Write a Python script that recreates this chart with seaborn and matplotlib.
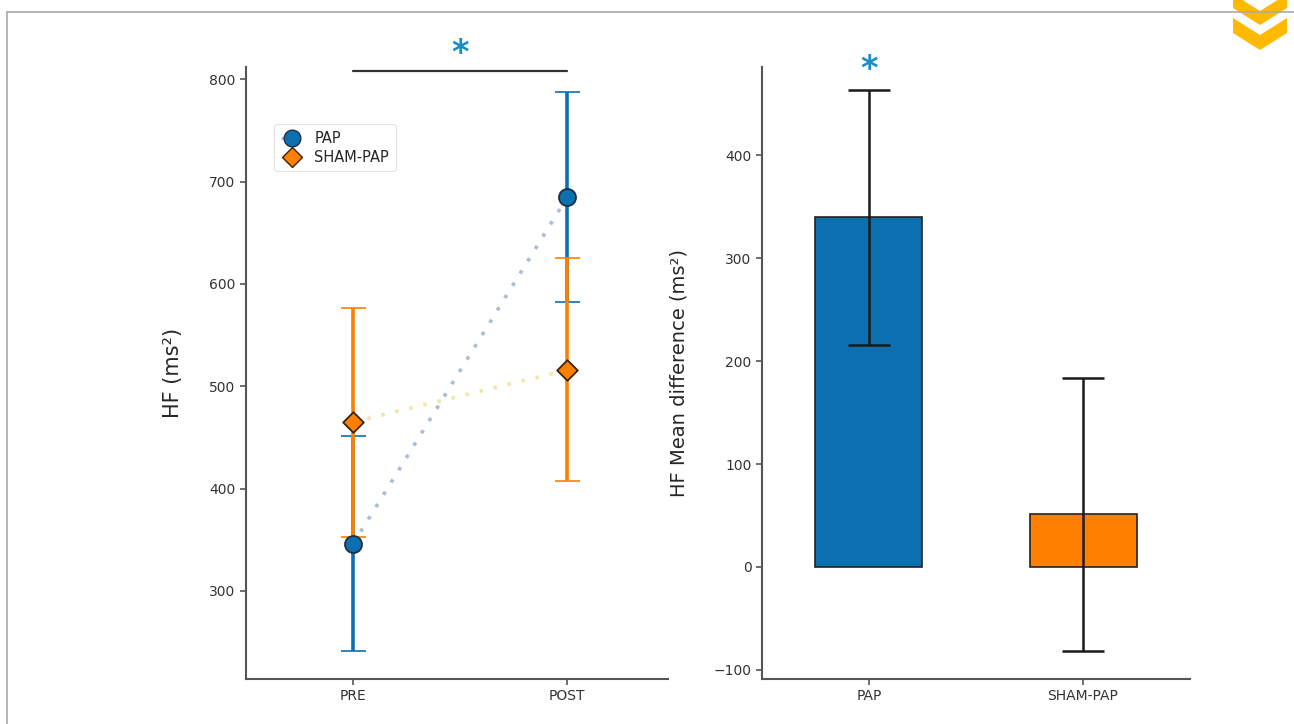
import matplotlib
matplotlib.use("Agg")
import matplotlib.pyplot as plt
import seaborn as sns
import pandas as pd
from matplotlib.lines import Line2D
from matplotlib.patches import Polygon

# ---- data ----
times = ["PRE", "POST"]
pap_mean = [346, 685]
pap_err = [105, 103]
sham_mean = [465, 516]
sham_err = [112, 109]

groups = ["PAP", "SHAM-PAP"]
diff_mean = [340, 51]
diff_err = [124, 133]

BLUE = "#0b6fb0"
ORANGE = "#ff8000"
STAR = "#1a8cc8"

sns.set_theme(style="ticks")
plt.rcParams["font.family"] = ["DejaVu Sans"]

fig = plt.figure(figsize=(12.94, 7.24), dpi=100)
W, H = 1294, 724

ax1 = fig.add_axes([246 / W, 1 - 679 / H, (668 - 246) / W, (679 - 67) / H])
ax2 = fig.add_axes([762 / W, 1 - 679 / H, (1190 - 762) / W, (679 - 67) / H])

# ---- left panel ----
df = pd.DataFrame({
    "time": times * 2,
    "HF": pap_mean + sham_mean,
    "group": ["PAP"] * 2 + ["SHAM-PAP"] * 2,
})
sns.lineplot(data=df[df.group == "PAP"], x="time", y="HF", ax=ax1, sort=False,
             color="#a9bdd9", linestyle=(0, (1, 3)), linewidth=2.6, legend=False)
sns.lineplot(data=df[df.group == "SHAM-PAP"], x="time", y="HF", ax=ax1, sort=False,
             color="#f3e6a6", linestyle=(0, (1, 3)), linewidth=2.6, legend=False)

ax1.errorbar(times, pap_mean, yerr=pap_err, fmt="none", ecolor=BLUE,
             elinewidth=2.6, capsize=9, capthick=1.2, zorder=3)
ax1.errorbar(times, sham_mean, yerr=sham_err, fmt="none", ecolor=ORANGE,
             elinewidth=2.6, capsize=9, capthick=1.2, zorder=4)

sns.scatterplot(data=df[df.group == "PAP"], x="time", y="HF", ax=ax1, marker="o",
                s=150, color=BLUE, edgecolor="#1f2f44", linewidth=1.3, zorder=5, legend=False)
sns.scatterplot(data=df[df.group == "SHAM-PAP"], x="time", y="HF", ax=ax1, marker="D",
                s=110, color=ORANGE, edgecolor="#3a2410", linewidth=1.3, zorder=6, legend=False)

ax1.set_xlim(-0.5, 1.47)
ax1.set_ylim(214, 812)
ax1.set_yticks([300, 400, 500, 600, 700, 800])
ax1.set_xlabel("")
ax1.set_ylabel("HF (ms²)", fontsize=15, labelpad=19)

# significance bar
ax1.plot([0, 1], [808, 808], color="#333333", lw=1.6, clip_on=False)
ax1.text(0.5, 809, "*", color=STAR, fontsize=24, fontweight="bold",
         ha="center", va="bottom", clip_on=False)

handles = [
    Line2D([0], [0], color="#a9bdd9", linestyle=(0, (1, 3)), linewidth=2, marker="o",
           markersize=12, markerfacecolor=BLUE, markeredgecolor="#1f2f44"),
    Line2D([0], [0], color="#f3e6a6", linestyle=(0, (1, 3)), linewidth=2, marker="D",
           markersize=10.5, markerfacecolor=ORANGE, markeredgecolor="#3a2410"),
]
leg = ax1.legend(handles, ["PAP", "SHAM-PAP"], loc="upper left",
                 bbox_to_anchor=(0.05, 0.918), fontsize=10.5, handlelength=1.5,
                 frameon=True, borderpad=0.45, labelspacing=0.25)
leg.get_frame().set_edgecolor("#dddddd")
leg.get_frame().set_linewidth(0.8)

# ---- right panel ----
dfb = pd.DataFrame({"group": groups, "diff": diff_mean})
sns.barplot(data=dfb, x="group", y="diff", hue="group", palette=[BLUE, ORANGE],
            saturation=1, ax=ax2, width=0.5, edgecolor="#222222", linewidth=1.2,
            legend=False, errorbar=None)
ax2.errorbar(groups, diff_mean, yerr=diff_err, fmt="none", ecolor="#1a1a1a",
             elinewidth=1.8, capsize=15, capthick=1.8, zorder=5)
ax2.set_xlim(-0.5, 1.5)
ax2.set_ylim(-109, 486)
ax2.set_yticks([-100, 0, 100, 200, 300, 400])
ax2.set_xlabel("")
ax2.set_ylabel("HF Mean difference (ms²)", fontsize=14, labelpad=18)
ax2.text(0, 468, "*", color=STAR, fontsize=24, fontweight="bold",
         ha="center", va="bottom", clip_on=False)

for ax in (ax1, ax2):
    sns.despine(ax=ax)
    for s in ("left", "bottom"):
        ax.spines[s].set_color("#555555")
        ax.spines[s].set_linewidth(1.5)
    ax.tick_params(axis="both", labelsize=10, colors="#555555", labelcolor="#333333",
                   length=4, width=1.2)

# ---- decorations: page frame and chevron icon ----
fig.add_artist(Line2D([7 / W, 1], [1 - 12 / H, 1 - 12 / H], color="#aaaaaa",
                      lw=1.2, transform=fig.transFigure))
fig.add_artist(Line2D([7 / W, 7 / W], [0, 1 - 12 / H], color="#aaaaaa",
                      lw=1.2, transform=fig.transFigure))


def chev(pts):
    return Polygon([(x / W, 1 - y / H) for x, y in pts], closed=True,
                   facecolor="#ffb900", edgecolor="none", transform=fig.transFigure)


fig.add_artist(chev([(1233, -6), (1260, 11), (1287, -6), (1287, 8), (1260, 25), (1233, 8)]))
fig.add_artist(chev([(1233, 18), (1260, 35), (1287, 18), (1287, 33), (1260, 50), (1233, 33)]))

fig.savefig("out.png", dpi=100)
